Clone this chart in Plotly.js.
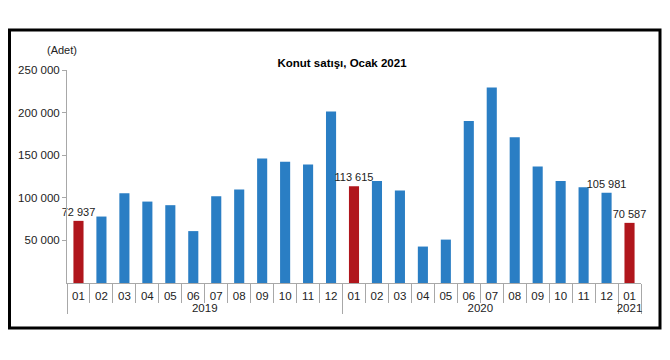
<!DOCTYPE html>
<html>
<head>
<meta charset="utf-8">
<script src="https://cdn.plot.ly/plotly-3.0.1.min.js"></script>
<style>html,body{margin:0;padding:0;background:#fff;}#chart{width:670px;height:360px;}</style>
</head>
<body>
<div id="chart"></div>
<script>
// ---- data ----
const years = ["2019","2019","2019","2019","2019","2019","2019","2019","2019","2019","2019","2019",
               "2020","2020","2020","2020","2020","2020","2020","2020","2020","2020","2020","2020",
               "2021"];
const months = ["01","02","03","04","05","06","07","08","09","10","11","12",
                "01","02","03","04","05","06","07","08","09","10","11","12",
                "01"];
const sales = [72937, 78008, 105394, 95562, 91340, 60912, 101944, 109860, 146254, 142358, 139209, 201276,
               113615, 119585, 108670, 42783, 50936, 190012, 229357, 170990, 136713, 119765, 112238, 105981,
               70587];
const labelledIdx = [0, 12, 23, 24];
const yTickVals = [50000, 100000, 150000, 200000, 250000];
const titleText = "Konut satışı, Ocak 2021";
const unitText = "(Adet)";

// ---- helpers ----
const fmt = v => String(v).replace(/\B(?=(\d{3})+(?!\d))/g, " ");
const BLUE = "#2a7ec4", RED = "#b0161c", GRAY = "#a8a8a8", TXT = "#222";

const W = 670, H = 360;
const M = {l: 67, r: 29, t: 70, b: 77};
const pw = W - M.l - M.r, ph = H - M.t - M.b;
const px = x => (x - M.l) / pw;
const py = y => (H - M.b - y) / ph;

const trace = {
  type: "bar",
  x: [years, months],
  y: sales,
  marker: {color: months.map(m => m === "01" ? RED : BLUE), line: {width: 0}},
  text: sales.map((v, i) => labelledIdx.includes(i) ? fmt(v) : ""),
  textposition: "outside",
  constraintext: "none",
  textfont: {family: "Liberation Sans, Arial, sans-serif", size: 11, color: TXT},
  cliponaxis: false,
  hoverinfo: "none"
};

const layout = {
  width: W, height: H,
  margin: M,
  paper_bgcolor: "#fff", plot_bgcolor: "#fff",
  showlegend: false,
  bargap: 0.56,
  font: {family: "Liberation Sans, Arial, sans-serif", size: 11.5, color: TXT},
  title: {text: "<b>" + titleText + "</b>", font: {size: 11.5, color: "#000"},
          x: px(342), xref: "paper", xanchor: "center", y: 1 - 63 / H, yanchor: "middle"},
  xaxis: {
    type: "multicategory",
    showline: true, linecolor: GRAY, linewidth: 1,
    ticks: "outside", ticklen: 19, tickcolor: GRAY, tickwidth: 1,
    ticklabelstandoff: 2,
    showdividers: true, dividercolor: GRAY, dividerwidth: 1,
    showgrid: false, zeroline: false,
    tickfont: {size: 11.5, color: TXT}
  },
  yaxis: {
    range: [0, 250000],
    showline: true, linecolor: GRAY, linewidth: 1,
    ticks: "outside", ticklen: 4, tickcolor: GRAY,
    tickvals: yTickVals, ticktext: yTickVals.map(fmt),
    showgrid: false, zeroline: false,
    tickfont: {size: 11.5, color: TXT}
  },
  annotations: [{
    text: unitText, xref: "paper", yref: "paper",
    x: px(62), y: py(50), xanchor: "center", yanchor: "middle",
    showarrow: false, font: {size: 11, color: TXT}
  }],
  shapes: [{
    type: "rect", xref: "paper", yref: "paper",
    x0: px(9.5), x1: px(660), y0: py(328), y1: py(30),
    line: {color: "#000", width: 3}
  }]
};

Plotly.newPlot("chart", [trace], layout, {displayModeBar: false, staticPlot: true});
</script>
</body>
</html>
